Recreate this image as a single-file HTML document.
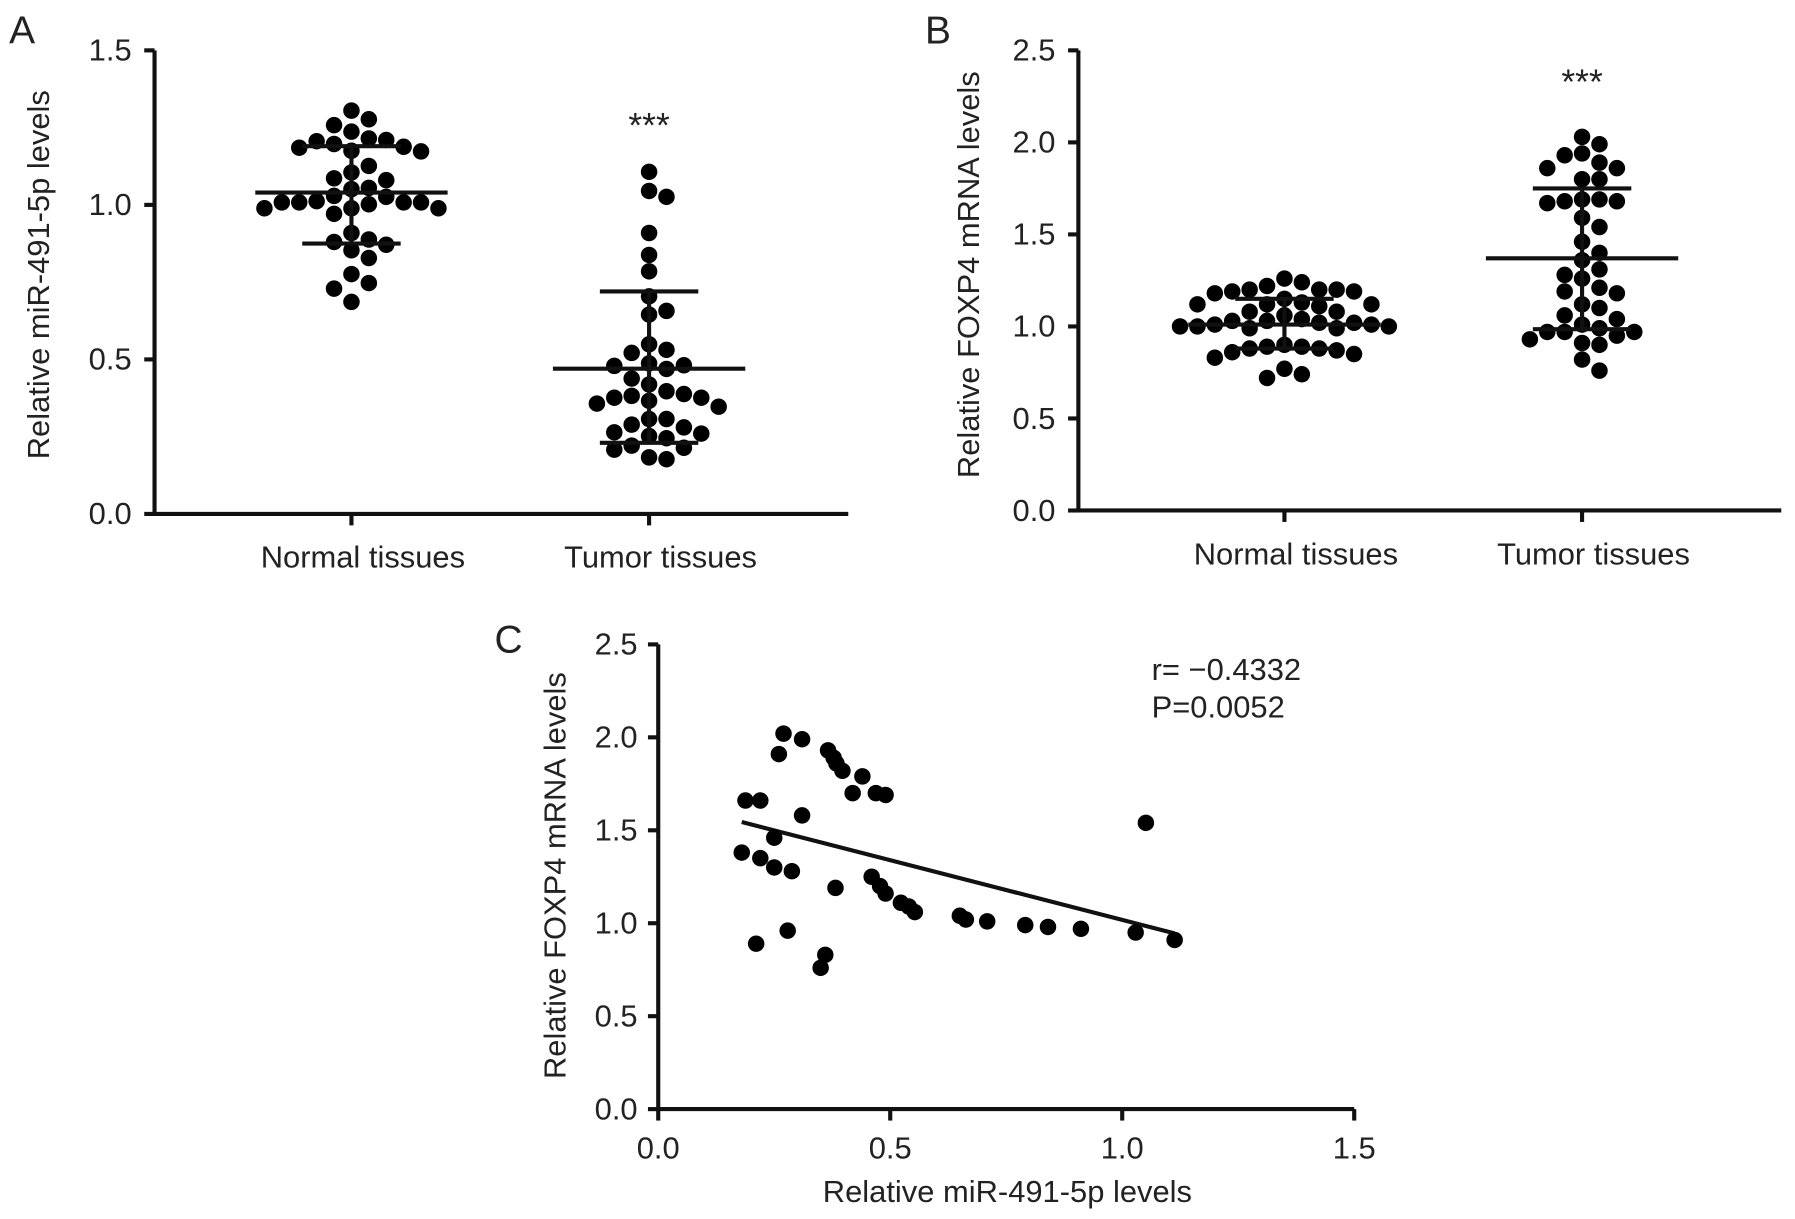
<!DOCTYPE html>
<html><head><meta charset="utf-8"><style>
html,body{margin:0;padding:0;background:#fff;}
svg{display:block;}
text{font-family:"Liberation Sans",Arial,sans-serif;fill:#222;}
</style></head><body>
<svg id="fig" width="1795" height="1219" viewBox="0 0 1568 1065" preserveAspectRatio="none" xmlns="http://www.w3.org/2000/svg">
<text x="8" y="38" font-size="34">A</text>
<text x="808" y="38" font-size="34">B</text>
<text x="432" y="570" font-size="34">C</text>
<g id="gA"></g>
<g id="gB"></g>
<g id="gC"></g>
</svg>
<script>
const catLabels=["Normal tissues","Tumor tissues"];
const aTicks=[0,0.5,1.0,1.5];
const aNormal=[1.305,1.277,1.258,1.237,1.188,1.206,1.173,1.197,1.21,1.175,1.215,1.185,1.126,1.105,1.08,1.086,1.055,1.051,1.029,1.012,1.008,1.008,0.989,0.971,0.989,0.989,1.002,1.008,1.008,1.026,0.909,0.88,0.871,0.853,0.888,0.828,0.747,0.776,0.729,0.686];
const aTumor=[1.107,1.045,1.026,0.909,0.838,0.785,0.704,0.657,0.645,0.549,0.521,0.531,0.487,0.469,0.479,0.481,0.438,0.419,0.388,0.382,0.366,0.347,0.357,0.376,0.376,0.397,0.307,0.289,0.264,0.245,0.252,0.26,0.28,0.307,0.214,0.208,0.177,0.183,0.221];
const aStats=[[1.04,1.19,0.875],[0.47,0.72,0.23]];
const bTicks=[0,0.5,1.0,1.5,2.0,2.5];
const bNormal=[1.26,1.24,1.22,1.20,1.20,1.19,1.18,1.19,1.20,1.15,1.13,1.12,1.12,1.11,1.12,1.08,1.08,1.06,1.04,1.03,1.02,1.01,1.0,1.0,0.99,1.0,1.01,1.02,1.03,0.99,0.90,0.89,0.88,0.87,0.86,0.85,0.83,0.88,0.89,0.77,0.72,0.74];
const bTumor=[2.03,1.99,1.93,1.94,1.86,1.86,1.89,1.80,1.80,1.69,1.67,1.68,1.68,1.69,1.59,1.54,1.46,1.40,1.36,1.26,1.31,1.28,1.19,1.21,1.18,1.12,1.10,1.06,1.04,0.99,0.97,0.95,1.01,0.93,0.97,0.97,0.91,0.90,0.82,0.76];
const bStats=[[1.01,1.15,0.88],[1.37,1.75,0.985]];
const cXTicks=[0,0.5,1.0,1.5];
const cYTicks=[0,0.5,1.0,1.5,2.0,2.5];
const cX=[0.27,0.31,0.26,0.366,0.378,0.384,0.397,0.44,0.419,0.469,0.49,0.188,0.22,0.31,1.051,0.25,0.18,0.22,0.25,0.288,0.382,0.46,0.478,0.49,0.523,0.54,0.553,0.65,0.663,0.709,0.791,0.84,0.911,1.029,1.113,0.211,0.279,0.36,0.35];
const cY=[2.02,1.99,1.91,1.93,1.89,1.86,1.82,1.79,1.70,1.70,1.69,1.66,1.66,1.58,1.54,1.46,1.38,1.35,1.30,1.28,1.19,1.25,1.20,1.16,1.11,1.09,1.06,1.04,1.02,1.01,0.99,0.98,0.97,0.95,0.91,0.89,0.96,0.83,0.76];

const NS="http://www.w3.org/2000/svg";
function mk(p,tag,at){const e=document.createElementNS(NS,tag);for(const k in at)e.setAttribute(k,at[k]);p.appendChild(e);return e;}
const R=7.2,LW=3.6,TF=27;

function swarm(vals,yf){
  const placed=[];const order=vals.map((v,i)=>i).sort((a,b)=>vals[b]-vals[a]);
  const off=new Array(vals.length);
  for(const i of order){const y=yf(vals[i]);
    for(let k=0;k<60;k++){const o=(k%2?1:-1)*Math.ceil(k/2)*15.2;
      if(placed.every(p=>Math.hypot(p[0]-o,p[1]-y)>=14.2)){off[i]=o;placed.push([o,y]);break;}}
  }
  return off;
}

function scatterPanel(g,cfg){
  const y=v=>cfg.y0-(v/cfg.ymax)*(cfg.y0-cfg.ytop);
  const ax=mk(g,'path',{d:`M${cfg.x0} ${cfg.ytop}V${cfg.y0}H${cfg.x1}`,stroke:'#111','stroke-width':LW,fill:'none'});
  
  cfg.ticks.forEach(t=>{
    mk(g,'line',{x1:cfg.x0-9,x2:cfg.x0,y1:y(t),y2:y(t),stroke:'#111','stroke-width':LW});
    const tx=mk(g,'text',{x:cfg.x0-20,y:y(t)+9,'font-size':TF,'text-anchor':'end'});tx.textContent=t.toFixed(1);
    
  });
  const yl=mk(g,'text',{x:0,y:0,'font-size':27,'text-anchor':'middle',transform:`translate(${cfg.ylx},${cfg.ylc}) rotate(-90)`});
  yl.textContent=cfg.ylabel;
  [cfg.normal,cfg.tumor].forEach((vals,ci)=>{
    const cx=cfg.cats[ci];
    mk(g,'line',{x1:cx,x2:cx,y1:cfg.y0,y2:cfg.y0+10,stroke:'#111','stroke-width':LW});
    const cl=mk(g,'text',{x:cx+10,y:cfg.y0+47,'font-size':27,'text-anchor':'middle'});cl.textContent=catLabels[ci];
    
    const off=swarm(vals,y);
    vals.forEach((v,i)=>{const c=mk(g,'circle',{cx:cx+off[i],cy:y(v),r:R,fill:'#000'});
      });
    const s=cfg.stats[ci];
    const eb=mk(g,'path',{d:`M${cx-84} ${y(s[0])}H${cx+84}M${cx-43} ${y(s[1])}H${cx+43}M${cx-43} ${y(s[2])}H${cx+43}M${cx} ${y(s[1])}V${y(s[2])}`,stroke:'#111','stroke-width':LW,fill:'none'});
    
    if(ci===1){const st=mk(g,'text',{x:cx,y:cfg.starY,'font-size':31,'text-anchor':'middle'});st.textContent='***';
      }
  });
}
scatterPanel(document.getElementById('gA'),{x0:135,x1:741,y0:449,ytop:44,ymax:1.5,ticks:aTicks,cats:[307,567],normal:aNormal,tumor:aTumor,stats:aStats,ylabel:'Relative miR-491-5p levels',ylx:43,ylc:240,starY:120});
scatterPanel(document.getElementById('gB'),{x0:942,x1:1556,y0:446,ytop:44,ymax:2.5,ticks:bTicks,cats:[1122,1382],normal:bNormal,tumor:bTumor,stats:bStats,ylabel:'Relative FOXP4 mRNA levels',ylx:855,ylc:240,starY:82});

(function(){
  const g=document.getElementById('gC');
  const X=v=>575+v*405.3, Y=v=>969-v*162.4;
  const ax=mk(g,'path',{d:`M575 ${Y(2.5)}V969H${X(1.5)}`,stroke:'#111','stroke-width':LW,fill:'none'});
  
  cYTicks.forEach(t=>{mk(g,'line',{x1:566,x2:575,y1:Y(t),y2:Y(t),stroke:'#111','stroke-width':LW});
    const tx=mk(g,'text',{x:557,y:Y(t)+9,'font-size':TF,'text-anchor':'end'});tx.textContent=t.toFixed(1);
    });
  cXTicks.forEach(t=>{mk(g,'line',{x1:X(t),x2:X(t),y1:969,y2:979,stroke:'#111','stroke-width':LW});
    const tx=mk(g,'text',{x:X(t),y:1012,'font-size':TF,'text-anchor':'middle'});tx.textContent=t.toFixed(1);
    });
  const yl=mk(g,'text',{x:0,y:0,'font-size':27,'text-anchor':'middle',transform:'translate(494,765) rotate(-90)'});
  yl.textContent='Relative FOXP4 mRNA levels';
  const xl=mk(g,'text',{x:880,y:1050,'font-size':27,'text-anchor':'middle'});
  xl.textContent='Relative miR-491-5p levels';
  const n=cX.length;let mx=0,my=0;for(let i=0;i<n;i++){mx+=cX[i];my+=cY[i];}mx/=n;my/=n;
  let sxy=0,sxx=0;for(let i=0;i<n;i++){sxy+=(cX[i]-mx)*(cY[i]-my);sxx+=(cX[i]-mx)**2;}
  const b=sxy/sxx,a=my-b*mx;const xmin=Math.min(...cX),xmax=Math.max(...cX);
  const ln=mk(g,'line',{x1:X(xmin),y1:Y(a+b*xmin),x2:X(xmax),y2:Y(a+b*xmax),stroke:'#111','stroke-width':LW});
  
  for(let i=0;i<n;i++){const c=mk(g,'circle',{cx:X(cX[i]),cy:Y(cY[i]),r:R,fill:'#000'});
    }
  const t1=mk(g,'text',{x:1006,y:594,'font-size':27});t1.textContent='r= \u22120.4332';
  
  const t2=mk(g,'text',{x:1006,y:627,'font-size':27});t2.textContent='P=0.0052';
  
})();
</script>
</body></html>
